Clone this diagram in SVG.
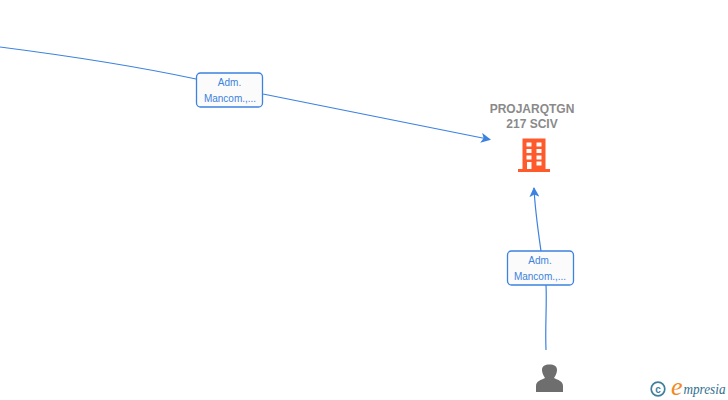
<svg xmlns="http://www.w3.org/2000/svg" width="728" height="400" viewBox="0 0 728 400">
<style>
.edge{fill:none;stroke:#3c82e0;stroke-width:1.2}
.box{fill:#fbfbfb;stroke:#3c82e0;stroke-width:1.3}
.lbl{font-family:"Liberation Sans",Arial,sans-serif;font-size:10px;fill:#3c82e0;text-anchor:middle}
.name{font-family:"Liberation Sans",Arial,sans-serif;font-size:12px;font-weight:bold;fill:#8a8a8a;text-anchor:middle}
</style>
<defs>
<marker id="arr" viewBox="0 0 10 10" refX="9" refY="5" markerWidth="10" markerHeight="10" markerUnits="userSpaceOnUse" orient="auto"><path d="M0 0L10 5L0 10L2.500 5Z" fill="#3c82e0"/></marker>
</defs>
<rect width="728" height="400" fill="#fff"/>
<g id="connectors">
<path class="edge" d="M0 47C70 56 135 66 196 79L263 94L490 139.500" marker-end="url(#arr)"/>
<path class="edge" d="M546 350C545 325 547 305 546 285L541 251C538 230 535 210 534 188" marker-end="url(#arr)"/>
</g>
<g id="label-1">
<rect class="box" x="196.500" y="73" width="66" height="34" rx="4"/>
<text class="lbl" x="229.500" y="86">Adm.</text>
<text class="lbl" x="230" y="102">Mancom.,...</text>
</g>
<g id="label-2">
<rect class="box" x="507.500" y="251" width="66" height="34" rx="4"/>
<text class="lbl" x="540" y="264">Adm.</text>
<text class="lbl" x="540" y="280">Mancom.,...</text>
</g>
<g id="node-company">
<text class="name" x="532" y="113">PROJARQTGN</text>
<text class="name" x="532" y="128">217 SCIV</text>
<path fill="#ff5a2c" fill-rule="evenodd" d="M522.500 138.500H545.500V169H550V172H518V169H522.500ZM526.500 142.500V146.500H531.500V142.500ZM536.500 142.500V146.500H541.500V142.500ZM526.500 149V153H531.500V149ZM536.500 149V153H541.500V149ZM526.500 155.500V159.500H531.500V155.500ZM536.500 155.500V159.500H541.500V155.500ZM527 162V169H531.500V162ZM536.500 161.500V165.500H541.500V161.500Z"/>
</g>
<g id="node-person">
<path fill="#6e6e6e" d="M536 392V386C536 381 541 380 545 378C543 375 542 372 542 370C542 366 545 364.500 549.500 364.500C554 364.500 557 366 557 370C557 372 556 375 554 378C558 380 563 381 563 386V392Z"/>
</g>
<g id="watermark">
<circle cx="658" cy="389" r="6.800" fill="none" stroke="#3f7f9c" stroke-width="1.700"/>
<text x="658" y="392.500" font-family="'Liberation Sans',sans-serif" font-size="10" font-weight="bold" fill="#3f7f9c" text-anchor="middle">c</text>
<text x="671" y="395" font-family="'Liberation Serif',serif" font-size="26" font-style="italic" fill="#f08a1d">e</text>
<text x="683.500" y="394" font-family="'Liberation Serif',serif" font-size="14" font-style="italic" fill="#2f6f8f" textLength="42" lengthAdjust="spacingAndGlyphs">mpresia</text>
</g>
</svg>
